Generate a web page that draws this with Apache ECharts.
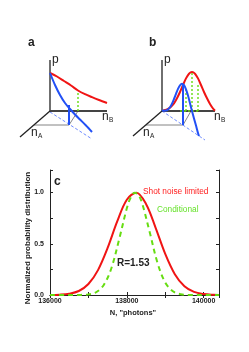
<!DOCTYPE html>
<html><head><meta charset="utf-8">
<script src="https://cdn.jsdelivr.net/npm/echarts@6/dist/echarts.min.js"></script>
<style>html,body{margin:0;padding:0;background:#fff;}#c{width:249px;height:352px;}</style>
</head><body><div id="c"></div>
<script>
// ---- Panel c data ----
const redX = [136000,136250,136500,136750,137000,137250,137500,137750,138000,138250,138500,138750,139000,139250,139500,139750,140000,140250,140400];
const redY = [0.001,0.003,0.012,0.039,0.107,0.243,0.459,0.718,0.930,0.999,0.889,0.656,0.401,0.203,0.085,0.030,0.009,0.002,0.001];
const greenX = [136000,136400,136800,137000,137200,137400,137600,137800,138000,138100,138200,138300,138400,138600,138800,139000,139200,139400,139600,140000,140400];
const greenY = [0,0,0.001,0.006,0.027,0.098,0.264,0.543,0.846,0.951,0.999,0.978,0.894,0.607,0.312,0.122,0.036,0.008,0.001,0,0];
const xTickLabels = ['136000','138000','140000'];
const yTickLabels = ['0.0','0.5','1.0'];

// ---- Panel a schematic (local units) ----
const aAxisP = [[0,0],[0,51]];
const aAxisB = [[0,0],[57,0]];
const aAxisA = [[0,0],[-30,-26]];
const aRed = [[0,38],[7,34.5],[14,30],[21,25.5],[28,20.5],[35,16.8],[42,13.8],[49,11],[57,8]];
const aBlue = [[0,38],[5,26],[10,16],[15,8],[20,2],[25,-3.5],[30,-8.5],[36,-14.5],[42,-21]];
const aDash = [[0,-1],[42,-28]];
const aGray = [[-16,-14],[19,-14],[28,0]];
const aStem = [[19,-14],[19,6]];
const aGreen = [[[28,0],[28,20]]];

// ---- Panel b schematic (local units) ----
const bAxisP = [[0,0],[0,51]];
const bAxisB = [[0,0],[53,0]];
const bAxisA = [[0,0],[-29,-25]];
const bRed = [[1,0.4],[3,1.0],[6,2.2],[9,4.3],[12,7.7],[15,12.7],[18,19.0],[21,26.0],[24,32.6],[27,37.3],[30,39],[33,37.3],[36,32.6],[39,26.0],[42,19.0],[45,12.7],[48,7.0],[51,2.5],[53,0.3]];
const bBlue = [[0,0.8],[2,0.3],[4,0.4],[6,1.5],[8,3.7],[10,7.3],[12,12.0],[14,17.1],[16,22.1],[18,25.7],[20,27.2],[22,25.9],[24,21.7],[26,15.4],[28,7.7],[30,-0.1],[32,-7.4],[34,-14.5],[36,-22],[37,-25]];
const bDash = [[0,0],[43,-29]];
const bGray = [[-16,-14],[21,-14],[29,0]];
const bStem = [[21,-14],[21,27]];
const bGreen = [[[24,0],[24,21]],[[30,0],[30,38]],[[36,0],[36,28]],[[18,0],[38,0]]];

const RED = '#f01414', BLUE = '#2250f5', GREEN = '#66dd11', DARK = '#222';

function pairs(xs, ys){ return xs.map((x,i)=>[x, ys[i]]); }

function seg(data, gi, style, extra){
  return Object.assign({
    type:'line', xAxisIndex:gi, yAxisIndex:gi, data:data, showSymbol:false, symbol:'none',
    silent:true, animation:false, clip:false, lineStyle:style
  }, extra||{});
}

const series = [
  {type:'line', xAxisIndex:0, yAxisIndex:0, data:pairs(redX, redY), smooth:0.35, symbol:'none', showSymbol:false,
   lineStyle:{color:RED, width:2}, silent:true, animation:false},
  {type:'line', xAxisIndex:0, yAxisIndex:0, data:pairs(greenX, greenY), smooth:0.35, symbol:'none', showSymbol:false,
   lineStyle:{color:GREEN, width:2, type:[5,4]}, silent:true, animation:false}
];

function schematic(gi, P, B, A, red, blue, dash, gray, stem, greens){
  series.push(seg(gray, gi, {color:'#666', width:0.8}));
  series.push(seg(dash, gi, {color:'#6f8cff', width:1, type:[3,2]}));
  series.push(seg(P, gi, {color:DARK, width:1.3}));
  series.push(seg(B, gi, {color:'#444', width:2.2}));
  series.push(seg(A, gi, {color:DARK, width:1.3}));
  series.push(seg(red, gi, {color:RED, width:2}, {smooth:0.3}));
  greens.forEach(g => series.push(seg(g, gi, {color:GREEN, width:1.4, type:[2,2]})));
  series.push(seg(blue, gi, {color:BLUE, width:2}, {smooth:0.3}));
  series.push(seg(stem, gi, {color:BLUE, width:2}));
}
schematic(1, aAxisP, aAxisB, aAxisA, aRed, aBlue, aDash, aGray, aStem, aGreen);
schematic(2, bAxisP, bAxisB, bAxisA, bRed, bBlue, bDash, bGray, bStem, bGreen);

const tickFont = {fontSize:7, fontWeight:'bold', color:DARK, fontFamily:'Liberation Sans, Arial, sans-serif'};
const hiddenAxis = (gi) => ({gridIndex:gi, type:'value', min:-40, max:70, show:false});

const chart = echarts.init(document.getElementById('c'), null, {renderer:'canvas'});
chart.setOption({
  backgroundColor:'#fff',
  animation:false,
  grid:[
    {left:50, right:30, top:170, bottom:57},
    {left:10, top:41, width:110, height:110},
    {left:122, top:41, width:110, height:110}
  ],
  xAxis:[
    {gridIndex:0, type:'value', min:136000, max:140400, interval:1000, position:'bottom',
     axisLine:{show:true, lineStyle:{color:DARK, width:1}},
     axisTick:{show:true, inside:true, length:3, lineStyle:{color:DARK}},
     splitLine:{show:false},
     axisLabel:Object.assign({margin:3, formatter:v => xTickLabels.indexOf(String(v))>=0 ? String(v) : ''}, tickFont)},
    hiddenAxis(1), hiddenAxis(2),
    {gridIndex:0, type:'value', min:136000, max:140400, interval:1000, position:'top',
     axisLine:{show:true, lineStyle:{color:DARK, width:1}},
     axisTick:{show:true, inside:true, length:3, lineStyle:{color:DARK}},
     splitLine:{show:false}, axisLabel:{show:false}}
  ],
  yAxis:[
    {gridIndex:0, type:'value', min:0, max:1.22, interval:0.25, position:'left',
     axisLine:{show:true, lineStyle:{color:DARK, width:1}},
     axisTick:{show:true, inside:true, length:3, lineStyle:{color:DARK}},
     splitLine:{show:false},
     axisLabel:Object.assign({margin:6, formatter:v => { const s = v.toFixed(1); return (yTickLabels.indexOf(s)>=0 && Math.abs(v-parseFloat(s))<1e-6) ? s : ''; }}, tickFont)},
    hiddenAxis(1), hiddenAxis(2),
    {gridIndex:0, type:'value', min:0, max:1.22, interval:0.25, position:'right',
     axisLine:{show:true, lineStyle:{color:DARK, width:1}},
     axisTick:{show:true, inside:true, length:3, lineStyle:{color:DARK}},
     splitLine:{show:false}, axisLabel:{show:false}}
  ],
  series: series,
  graphic:[
    {type:'text', left:28, top:37, style:{text:'a', fontSize:12, fontWeight:'bold', fill:DARK, fontFamily:'Liberation Sans, Arial'}},
    {type:'text', left:149, top:37, style:{text:'b', fontSize:12, fontWeight:'bold', fill:DARK, fontFamily:'Liberation Sans, Arial'}},
    {type:'text', left:52, top:54, style:{text:'p', fontSize:12, fill:DARK, fontFamily:'Liberation Sans, Arial'}},
    {type:'text', left:164, top:54, style:{text:'p', fontSize:12, fill:DARK, fontFamily:'Liberation Sans, Arial'}},
    {type:'text', left:102, top:111, style:{text:'n', fontSize:12, fill:DARK, fontFamily:'Liberation Sans, Arial'}},
    {type:'text', left:109, top:117, style:{text:'B', fontSize:6.5, fill:DARK, fontFamily:'Liberation Sans, Arial'}},
    {type:'text', left:214, top:111, style:{text:'n', fontSize:12, fill:DARK, fontFamily:'Liberation Sans, Arial'}},
    {type:'text', left:221, top:117, style:{text:'B', fontSize:6.5, fill:DARK, fontFamily:'Liberation Sans, Arial'}},
    {type:'text', left:31, top:127, style:{text:'n', fontSize:12, fill:DARK, fontFamily:'Liberation Sans, Arial'}},
    {type:'text', left:38, top:133, style:{text:'A', fontSize:6.5, fill:DARK, fontFamily:'Liberation Sans, Arial'}},
    {type:'text', left:143, top:127, style:{text:'n', fontSize:12, fill:DARK, fontFamily:'Liberation Sans, Arial'}},
    {type:'text', left:150, top:133, style:{text:'A', fontSize:6.5, fill:DARK, fontFamily:'Liberation Sans, Arial'}},
    {type:'text', left:54, top:176, style:{text:'c', fontSize:12, fontWeight:'bold', fill:DARK, fontFamily:'Liberation Sans, Arial'}},
    {type:'text', left:143, top:188, style:{text:'Shot noise limited', fontSize:8.3, fill:'#ff2020', fontFamily:'Liberation Sans, Arial'}},
    {type:'text', left:157, top:206, style:{text:'Conditional', fontSize:8.3, fill:'#66e22a', fontFamily:'Liberation Sans, Arial'}},
    {type:'text', left:117, top:258, style:{text:'R=1.53', fontSize:10, fontWeight:'bold', fill:DARK, fontFamily:'Liberation Sans, Arial'}},
    {type:'text', x:28, y:238, rotation:Math.PI/2, style:{text:'Normalized probability distribution', fontSize:8, fontWeight:'bold', fill:DARK, align:'center', verticalAlign:'middle', fontFamily:'Liberation Sans, Arial'}},
    {type:'text', x:133, y:313, style:{text:'N, "photons"', fontSize:7.5, fontWeight:'bold', fill:DARK, align:'center', verticalAlign:'middle', fontFamily:'Liberation Sans, Arial'}}
  ]
});
</script></body></html>
